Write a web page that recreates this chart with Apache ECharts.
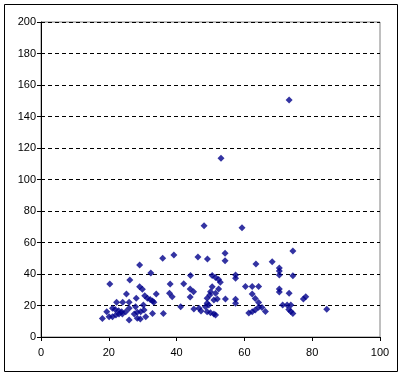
<!DOCTYPE html>
<html>
<head>
<meta charset="utf-8">
<script src="https://cdn.jsdelivr.net/npm/echarts@6/dist/echarts.min.js"></script>
<style>
html,body{margin:0;padding:0;background:#fff;}
#c{width:404px;height:377px;}
</style>
</head>
<body>
<div id="c"></div>
<script>
var xTicks = [0, 20, 40, 60, 80, 100];
var yTicks = [0, 20, 40, 60, 80, 100, 120, 140, 160, 180, 200];
var xValues = [73.2,53.1,48.1,59.3,39.2,35.9,46.3,49.1,54.3,54.3,63.4,68.2,74.3,70.3,70.3,29.1,32.4,20.3,26.2,44.1,
50.5,51.5,52.4,52.9,57.4,57.4,70.3,74.3,29.1,29.9,25.2,38.1,42.1,44.0,45.0,44.0,34.0,37.9,38.7,30.6,
31.4,32.2,32.9,33.3,28.1,22.3,24.1,26.0,19.4,21.1,21.9,22.9,23.8,25.0,26.0,27.9,28.4,27.5,20.1,21.1,
22.1,23.0,24.0,18.1,26.0,28.4,29.3,30.9,29.4,30.2,30.4,32.9,36.1,41.2,45.1,46.6,47.2,48.5,49.0,49.5,
49.0,50.0,51.0,51.5,50.5,50.0,49.8,49.0,52.4,51.5,51.0,52.0,54.4,57.4,57.4,60.3,62.3,64.2,62.3,63.2,
64.2,65.2,66.2,61.3,62.3,63.2,64.2,70.3,70.3,73.2,77.4,78.1,71.3,72.6,73.7,73.1,73.7,74.3,84.3];
var yValues = [150.5,113.5,70.7,69.4,52.1,50.0,50.8,49.5,53.1,48.4,46.3,47.8,54.6,43.8,41.9,45.7,40.6,33.7,36.2,39.0,
39.0,37.7,36.5,34.7,39.4,37.3,39.4,38.9,31.9,30.3,27.3,33.7,33.8,30.5,28.8,25.4,27.3,27.7,25.6,26.2,
24.6,23.8,22.9,22.0,24.6,22.0,22.0,22.0,16.1,18.2,17.5,16.7,16.1,16.1,18.2,19.2,15.7,14.6,12.9,12.9,
14.0,14.6,14.6,11.7,10.8,11.9,11.4,12.9,16.1,20.3,17.1,14.9,14.9,19.2,17.8,18.2,16.5,19.2,21.4,20.3,
16.1,15.4,14.6,14.0,31.9,28.8,26.7,24.6,30.5,27.7,23.5,24.1,24.1,23.9,21.4,32.1,32.1,32.1,27.3,24.4,
21.9,18.7,16.2,15.2,16.1,17.1,18.9,30.5,28.6,27.7,24.1,25.6,20.3,20.3,20.3,17.5,16.2,14.9,17.6];

var points = xValues.map(function (x, i) { return [x, yValues[i]]; });
var font = '"Liberation Sans", Arial, sans-serif';
var chart = echarts.init(document.getElementById('c'), null, {renderer: 'canvas'});
chart.setOption({
  animation: false,
  backgroundColor: '#ffffff',
  graphic: [{
    type: 'rect', z: 0, silent: true,
    shape: {x: 4.5, y: 4.5, width: 393, height: 367},
    style: {fill: 'none', stroke: '#000', lineWidth: 1}
  }],
  grid: {left: 41, top: 22, width: 339, height: 315, show: true, borderColor: '#808080', borderWidth: 1, backgroundColor: 'transparent'},
  xAxis: {
    type: 'value', min: xTicks[0], max: xTicks[xTicks.length - 1], interval: 20,
    axisLine: {show: true, onZero: false, lineStyle: {color: '#000', width: 1}},
    axisTick: {show: true, inside: false, length: 4, lineStyle: {color: '#000'}},
    axisLabel: {color: '#000', fontFamily: font, fontSize: 11, margin: 10},
    splitLine: {show: false}
  },
  yAxis: {
    type: 'value', min: yTicks[0], max: yTicks[yTicks.length - 1], interval: 20,
    axisLine: {show: true, onZero: false, lineStyle: {color: '#000', width: 1}},
    axisTick: {show: true, inside: false, length: 4, lineStyle: {color: '#000'}},
    axisLabel: {color: '#000', fontFamily: font, fontSize: 11, margin: 5},
    splitLine: {show: true, lineStyle: {color: '#000', type: [4, 3], width: 1}}
  },
  series: [{
    type: 'scatter',
    data: points,
    symbol: 'diamond',
    symbolSize: [7, 7],
    itemStyle: {color: '#00008B'}
  }]
});
</script>
</body>
</html>
